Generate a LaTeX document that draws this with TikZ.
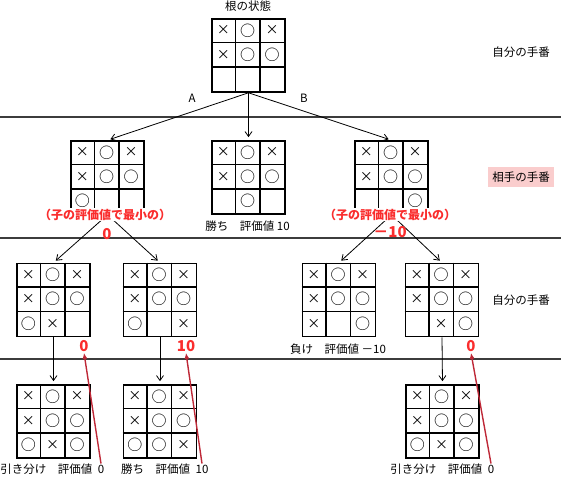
\documentclass[tikz,border=0pt]{standalone}
\usepackage{fontspec}
\setmainfont{Noto Sans CJK JP}
\usetikzlibrary{arrows.meta, positioning, calc}

\definecolor{evred}{RGB}{250,45,45}
\definecolor{arrred}{RGB}{190,40,55}
\definecolor{turnbg}{RGB}{250,205,205}
\definecolor{sepgray}{RGB}{60,60,60}

\newcommand{\mx}{×}
\newcommand{\mo}{{\fontsize{15}{15}\selectfont ○}}
\newcommand{\mn}{}

% board: name, centre, nine cells row by row
\newcommand{\tttboard}[3]{%
  \node[board] (#1) at (#2) {};
  \foreach \k in {1,2} {
    \draw[grid] ($(#1.north west)+(\k*24.33,0)$) -- ($(#1.south west)+(\k*24.33,0)$);
    \draw[grid] ($(#1.north west)+(0,\k*24.33)$) -- ($(#1.north east)+(0,\k*24.33)$);
  }
  \foreach \s [count=\i from 0] in {#3} {
    \pgfmathtruncatemacro\r{div(\i,3)}
    \pgfmathtruncatemacro\c{mod(\i,3)}
    \node[cell] at ($(#1.north west)+(\c*24.33+12.17,\r*24.33+12.17)$) {\s};
  }
}

\begin{document}
\begin{tikzpicture}[
  x=1pt, y=-1pt,
  board/.style={draw, line width=1.6pt, minimum size=73pt, inner sep=0pt},
  grid/.style={line width=1.6pt},
  cell/.style={font=\fontsize{13}{13}\selectfont, inner sep=0pt},
  lbl/.style={font=\fontsize{11.5}{11.5}\selectfont, inner sep=1pt},
  redlbl/.style={font=\fontsize{12}{12}\selectfont\bfseries, text=evred, fill=white,
                 inner sep=0.5pt, text height=10.5pt, text depth=1.5pt, anchor=base},
  redval/.style={font=\fontsize{15}{15}\selectfont\bfseries, text=evred, inner sep=1pt},
  turn/.style={lbl, inner xsep=4pt, inner ysep=4.5pt},
  sep/.style={line width=1.6pt, sepgray},
  arr/.style={-{Straight Barb[length=5pt, width=7pt]}, line width=0.8pt, shorten >=3pt},
  back/.style={-{Latex[length=6pt, width=5pt]}, line width=1.4pt, arrred}
]
\useasboundingbox (0,0) rectangle (561,502);

% separators
\draw[sep] (0,117) -- (561,117);
\draw[sep] (0,238) -- (561,238);
\draw[sep] (0,359) -- (561,359);

% turns
\node[turn] (t1) at (521,52) {自分の手番};
\node[turn, fill=turnbg] (t2) at (521,177) {相手の手番};
\node[turn] (t3) at (521,300) {自分の手番};

% root
\node[lbl] (rt) at (248,6) {根の状態};
\tttboard{root}{248.5,55.5}{\mx,\mo,\mx,\mx,\mo,\mo,\mn,\mn,\mn}

% level 1
\tttboard{a}{107.5,177.5}{\mx,\mo,\mx,\mx,\mo,\mo,\mo,\mn,\mn}
\tttboard{b}{248.5,177.5}{\mx,\mo,\mx,\mx,\mo,\mo,\mn,\mo,\mn}
\tttboard{c}{391.5,177.5}{\mx,\mo,\mx,\mx,\mo,\mo,\mn,\mn,\mo}
\draw[arr] (root.south) -- (a.north);
\draw[arr] (root.south) -- (b.north);
\draw[arr] (root.south) -- (c.north);
\node[lbl] (la) at (192,98) {A};
\node[lbl] (lb) at (304,98) {B};
\node[lbl] (bw) at (247.5,226) {勝ち　評価値 10};

% level 2
\tttboard{aa}{53.5,300}{\mx,\mo,\mx,\mx,\mo,\mo,\mo,\mx,\mn}
\tttboard{ab}{160,300}{\mx,\mo,\mx,\mx,\mo,\mo,\mo,\mn,\mx}
\tttboard{ca}{339,300}{\mx,\mo,\mx,\mx,\mo,\mo,\mx,\mn,\mo}
\tttboard{cb}{442,300}{\mx,\mo,\mx,\mx,\mo,\mo,\mn,\mx,\mo}
\draw[arr] (a.south) -- (aa.north);
\draw[arr] (a.south) -- (ab.north);
\draw[arr] (c.south) -- (ca.north);
\draw[arr] (c.south) -- (cb.north);
\node[redlbl] (am) at (105,219.5) {（子の評価値で最小の）};
\node[redval] (av) at (107,234) {0};
\node[redlbl] (cm) at (390,219.5) {（子の評価値で最小の）};
\node[redval] (cv) at (390,232) {－10};
\node[lbl] (cl) at (338,349) {負け　評価値 －10};
\node[redval] (aav) at (84,346) {0};
\node[redval] (abv) at (186,346) {10};
\node[redval] (cbv) at (471,346) {0};

% level 3
\tttboard{aaa}{53.5,421.5}{\mx,\mo,\mx,\mx,\mo,\mo,\mo,\mx,\mo}
\tttboard{aba}{160,421.5}{\mx,\mo,\mx,\mx,\mo,\mo,\mo,\mo,\mx}
\tttboard{cba}{442.5,421.5}{\mx,\mo,\mx,\mx,\mo,\mo,\mo,\mx,\mo}
\draw[arr] (aa.south) -- (aaa.north);
\draw[arr] (ab.south) -- (aba.north);
\draw[arr] (cb.south) -- (cba.north);

\node[lbl] (d1v) at (101,469) {0};
\node[lbl, left=3pt of d1v] (d1) {引き分け　評価値};
\node[lbl] (d2v) at (202,469) {10};
\node[lbl, left=3pt of d2v] (d2) {勝ち　評価値};
\node[lbl] (d3v) at (491,469) {0};
\node[lbl, left=3pt of d3v] (d3) {引き分け　評価値};

% values back up
\draw[back] (d1v.north) -- (aav.south);
\draw[back] (d2v.north) -- (abv.south);
\draw[back] (d3v.north) -- (cbv.south);
\end{tikzpicture}
\end{document}
